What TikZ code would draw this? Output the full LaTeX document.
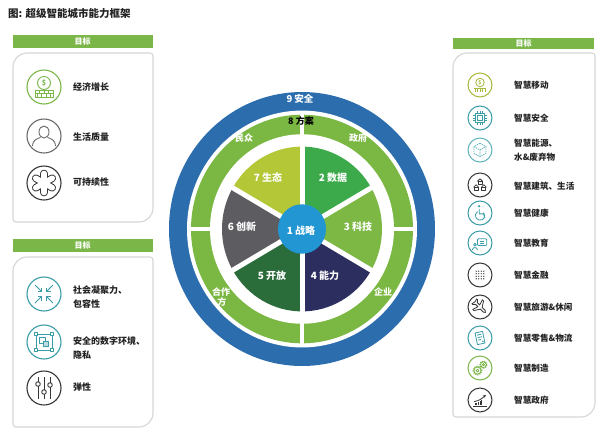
\documentclass[tikz,border=0pt]{standalone}
\usepackage{fontspec}
\setmainfont{Noto Sans CJK SC}
\usetikzlibrary{arrows.meta}
\definecolor{hdrgreen}{HTML}{7AB648}
\definecolor{ringblue}{HTML}{2C6DAE}
\definecolor{ringgreen}{HTML}{7BB843}
\definecolor{sYellow}{HTML}{B3C737}
\definecolor{sGreen}{HTML}{3CAA4A}
\definecolor{sLight}{HTML}{7DB845}
\definecolor{sNavy}{HTML}{2B2E5E}
\definecolor{sDark}{HTML}{2B6C3B}
\definecolor{sGray}{HTML}{5D5C60}
\definecolor{cBlue}{HTML}{2196D3}
\definecolor{icTeal}{HTML}{3A9CA6}
\definecolor{icTealL}{HTML}{5FB3BC}
\definecolor{icGreen}{HTML}{7AB648}
\definecolor{icOlive}{HTML}{A9B83C}
\definecolor{icDark}{HTML}{363636}
\definecolor{icGray}{HTML}{6A6A6A}
\definecolor{boxline}{HTML}{D6D6D6}
\definecolor{txt}{HTML}{222222}
\tikzset{
  hdr/.style={fill=hdrgreen, text=white, font=\fontsize{8}{9}\selectfont\bfseries, minimum width=140pt, minimum height=13pt, inner sep=0pt},
  lbl/.style={anchor=west, font=\fontsize{9}{14}\selectfont\bfseries, text=txt, align=left, inner sep=0pt},
  rlbl/.style={anchor=west, font=\fontsize{8.6}{14}\selectfont\bfseries, text=txt, align=left, inner sep=0pt},
  ico/.style={circle, draw, line width=1.1pt, minimum size=34pt, inner sep=0pt},
  rico/.style={circle, draw, line width=1pt, minimum size=24pt, inner sep=0pt},
  seclbl/.style={text=white, font=\fontsize{10}{12}\selectfont\bfseries, inner sep=0pt},
  ringlbl/.style={text=white, font=\fontsize{9}{10}\selectfont\bfseries, inner sep=0pt, align=center},
  glyph/.style={line width=0.9pt, line join=round},
  rglyph/.style={line width=0.8pt, line join=round, scale=0.85}
}
\newcommand\panelbox[4]{%
  \draw[boxline, line width=1.1pt] (#1,#2+14) arc[start angle=180,end angle=270,radius=14]
    -- (#3-3,#2) arc[start angle=270,end angle=360,radius=3]
    -- (#3,#4-14) arc[start angle=0,end angle=90,radius=14]
    -- (#1+3,#4) arc[start angle=90,end angle=180,radius=3] -- cycle;}
\begin{document}
\begin{tikzpicture}[x=1pt,y=-1pt]
\useasboundingbox[fill=white] (0,0) rectangle (600,432);

% title
\node[anchor=west, font=\fontsize{10.5}{12}\selectfont\bfseries, text=txt, inner sep=0pt] (title) at (8,13) {图: 超级智能城市能力框架};

% ---------- left panel 1 ----------
\node[hdr] (h1) at (82.5,41.5) {目标};
\panelbox{13}{53}{153}{222}
\node[ico, draw=icGreen] (lic1) at (44,87) {};
\node[ico, draw=icGray] (lic2) at (44,136) {};
\node[ico, draw=icDark] (lic3) at (44,183) {};
\node[lbl] (lt1) at (73,87) {经济增长};
\node[lbl] (lt2) at (73,137) {生活质量};
\node[lbl] (lt3) at (73,182) {可持续性};

% ---------- left panel 2 ----------
\node[hdr] (h2) at (82.5,245) {目标};
\panelbox{13}{257}{153}{427}
\node[ico, draw=icTeal] (lic4) at (44,294) {};
\node[ico, draw=icTeal] (lic5) at (44,342) {};
\node[ico, draw=icDark] (lic6) at (44,388) {};
\node[lbl] (lt4) at (73,297.5) {社会凝聚力、\\包容性};
\node[lbl] (lt5) at (73,348.5) {安全的数字环境、\\隐私};
\node[lbl] (lt6) at (73,387) {弹性};

% ---------- right panel ----------
\node[hdr, minimum width=141pt, minimum height=11pt] (h3) at (523.5,43.5) {目标};
\panelbox{453}{53}{595}{417}
\foreach \n/\y/\c in {1/85/icOlive,2/118/icTeal,3/150/icTealL,4/185/icDark,5/213/icTeal,6/243/icTeal,7/275/icDark,8/307/icDark,9/338/icTeal,10/368/icGreen,11/400/icDark}
  \node[rico, draw=\c] (ric\n) at (480,\y) {};
\node[rlbl] (rt1) at (514,85) {智慧移动};
\node[rlbl] (rt2) at (514,118) {智慧安全};
\node[rlbl] (rt3) at (514,150) {智慧能源、\\水\&废弃物};
\node[rlbl] (rt4) at (514,186) {智慧建筑、生活};
\node[rlbl] (rt5) at (514,213) {智慧健康};
\node[rlbl] (rt6) at (514,243) {智慧教育};
\node[rlbl] (rt7) at (514,275) {智慧金融};
\node[rlbl] (rt8) at (514,307) {智慧旅游\&休闲};
\node[rlbl] (rt9) at (514,338) {智慧零售\&物流};
\node[rlbl] (rt10) at (514,368) {智慧制造};
\node[rlbl] (rt11) at (514,400) {智慧政府};

% ---------- left glyphs ----------
\begin{scope}[shift={(lic1.center)}, yscale=-1, icGreen, glyph]
  \draw (0,4) circle (6.5);
  \node[font=\fontsize{7}{7}\selectfont\bfseries, text=icGreen, inner sep=0pt] (dol1) at (0,4) {\$};
  \draw (-9,-3) rectangle (9,-10);
  \draw (-9,-6.5) -- (9,-6.5);
  \foreach \x in {-4.5,0,4.5} \draw (\x,-3) -- (\x,-6.5);
  \foreach \x in {-6.75,-2.25,2.25,6.75} \draw (\x,-6.5) -- (\x,-10);
\end{scope}
\begin{scope}[shift={(lic2.center)}, yscale=-1, icGray, glyph]
  \draw (0,4) ellipse [x radius=5, y radius=6];
  \draw (-11.5,-10) .. controls (-11,-3) and (-6,-2.5) .. (-3.5,-1.5);
  \draw (11.5,-10) .. controls (11,-3) and (6,-2.5) .. (3.5,-1.5);
\end{scope}
\begin{scope}[shift={(lic3.center)}, yscale=-1]
  \foreach \a in {90,30,150} \draw[line width=7.6pt, line cap=round, icDark] (\a:9.5) -- (\a+180:9.5);
  \foreach \a in {90,30,150} \draw[line width=5.6pt, line cap=round, white] (\a:9.5) -- (\a+180:9.5);
\end{scope}
\begin{scope}[shift={(lic4.center)}, yscale=-1, icTeal, glyph]
  \foreach \sx/\sy in {1/1,1/-1,-1/1,-1/-1} {
    \draw (\sx*9,\sy*9) -- (\sx*2.5,\sy*2.5);
    \draw (\sx*2.5,\sy*6.5) -- (\sx*2.5,\sy*2.5) -- (\sx*6.5,\sy*2.5);
  }
\end{scope}
\begin{scope}[shift={(lic5.center)}, yscale=-1, icTeal, glyph]
  \draw (-8,-8) rectangle (8,8);
  \foreach \sx/\sy in {1/1,1/-1,-1/1,-1/-1}
    \draw[fill=white] (\sx*8-1.8,\sy*8-1.8) rectangle +(3.6,3.6);
  \draw (-4.5,-1) rectangle (1,4.5);
  \draw[fill=icTeal!35] (-1,-4.5) rectangle (4.5,1);
\end{scope}
\begin{scope}[shift={(lic6.center)}, yscale=-1, icDark, glyph]
  \foreach \x/\k in {-6/4,0/-4,6/3} {
    \draw (\x,-11) -- (\x,11);
    \draw[fill=white] (\x,\k) circle (2.3);
  }
\end{scope}

% ---------- right glyphs ----------
\begin{scope}[shift={(ric1.center)}, yscale=-1, icOlive, rglyph]
  \draw (0,3) circle (5);
  \node[font=\fontsize{5}{5}\selectfont\bfseries, text=icOlive, inner sep=0pt] (dol2) at (0,3) {\$};
  \draw (-7,-4) -- (7,-4);
  \foreach \x in {-6,-3,0,3,6} \draw (\x,-4) -- (\x,-8);
\end{scope}
\begin{scope}[shift={(ric2.center)}, yscale=-1, icTeal, rglyph]
  \draw (-5,-5) rectangle (5,5);
  \draw (-2.5,-2.5) rectangle (2.5,2.5);
  \foreach \t in {-3,0,3} {
    \draw (\t,5) -- (\t,8); \draw (\t,-5) -- (\t,-8);
    \draw (5,\t) -- (8,\t); \draw (-5,\t) -- (-8,\t);
  }
\end{scope}
\begin{scope}[shift={(ric3.center)}, yscale=-1, icTealL, rglyph, dash pattern=on 1.3pt off 0.9pt]
  \draw (0,8) -- (7,4) -- (7,-4) -- (0,-8) -- (-7,-4) -- (-7,4) -- cycle;
  \draw (-7,4) -- (0,0) -- (7,4) (0,0) -- (0,-8);
\end{scope}
\begin{scope}[shift={(ric4.center)}, yscale=-1, icDark, rglyph]
  \foreach \x/\y in {0/3,-4.5/-4,4.5/-4} {
    \draw (\x-2.4,\y-2.5) rectangle (\x+2.4,\y+1.3);
    \draw (\x-3,\y+1.3) -- (\x,\y+4.3) -- (\x+3,\y+1.3);
  }
\end{scope}
\begin{scope}[shift={(ric5.center)}, yscale=-1, icTeal, rglyph]
  \fill (-1,8) circle (1.5);
  \draw (-1,5) -- (-1,-1) -- (4,-1) -- (6,-6);
  \draw (0,-3) ++(120:5.5) arc[start angle=120, end angle=400, radius=5.5];
\end{scope}
\begin{scope}[shift={(ric6.center)}, yscale=-1, icTeal, rglyph]
  \draw[rounded corners=1pt] (-3,-3) rectangle (8,5);
  \draw (0,2) -- (5,2) (0,-0.5) -- (5,-0.5);
  \draw (-6,-2) circle (1.6);
  \draw (-9,-8) .. controls (-9,-4.5) and (-3,-4.5) .. (-3,-8);
\end{scope}
\begin{scope}[shift={(ric7.center)}, yscale=-1, icDark, scale=0.85]
  \foreach \i in {-4.5,-1.5,1.5,4.5}
    \foreach \j in {-4.5,-1.5,1.5,4.5}
      \fill (\i,\j) circle (0.8);
\end{scope}
\begin{scope}[shift={(ric8.center)}, yscale=-1, icDark, rglyph, rotate=45]
  \draw (9,0) -- (7,1.5) -- (2,1.5) -- (-2,8) -- (-4,8) -- (-2,1.5) -- (-6,1.5) -- (-8,4) -- (-9.5,4)
    -- (-8.5,0) -- (-9.5,-4) -- (-8,-4) -- (-6,-1.5) -- (-2,-1.5) -- (-4,-8) -- (-2,-8) -- (2,-1.5) -- (7,-1.5) -- cycle;
\end{scope}
\begin{scope}[shift={(ric9.center)}, yscale=-1, icTeal, rglyph, rotate=-12]
  \draw (-4.5,-7) rectangle (4.5,7);
  \draw (-2.5,4) -- (2.5,4) (-2.5,1) -- (2.5,1) (-2.5,-2) -- (1,-2);
  \fill (2.5,-4.5) circle (1);
\end{scope}
\begin{scope}[shift={(ric10.center)}, yscale=-1, icGreen, rglyph]
  \draw (-3,-3) circle (4.2);
  \draw (-3,-3) circle (1.7);
  \draw[line width=1.3pt, dash pattern=on 1.1pt off 1.1pt] (-3,-3) circle (5.1);
  \draw (4,4) circle (3.3);
  \draw (4,4) circle (1.3);
  \draw[line width=1.2pt, dash pattern=on 1pt off 1pt] (4,4) circle (4.1);
\end{scope}
\begin{scope}[shift={(ric11.center)}, yscale=-1, icDark, rglyph]
  \foreach \x/\h in {-6/2,-4/3,-2/4,0/5,2/6} \draw (\x,-6) -- (\x,-6+\h);
  \draw (-8,-7) -- (8,-7);
  \draw[-{Stealth[length=3pt,width=3pt]}] (-7,-2) .. controls (0,0) .. (7,6);
\end{scope}

% ---------- central wheel ----------
\begin{scope}[shift={(302,229)}, yscale=-1.03]
  \fill[ringblue] (0,0) circle (133);
  \fill[white] (0,0) circle (115);
  \fill[ringgreen] (0,0) circle (111);
  \fill[white] (0,0) circle (92);
  \draw[white, line width=4pt] (-112,0) -- (112,0) (0,-112) -- (0,112);
  \fill[sYellow] (0,0) -- (90:80) arc[start angle=90, end angle=150, radius=80] -- cycle;
  \fill[sGreen] (0,0) -- (30:80) arc[start angle=30, end angle=90, radius=80] -- cycle;
  \fill[sLight] (0,0) -- (-30:80) arc[start angle=-30, end angle=30, radius=80] -- cycle;
  \fill[sNavy] (0,0) -- (-90:80) arc[start angle=-90, end angle=-30, radius=80] -- cycle;
  \fill[sDark] (0,0) -- (-150:80) arc[start angle=-150, end angle=-90, radius=80] -- cycle;
  \fill[sGray] (0,0) -- (150:80) arc[start angle=150, end angle=210, radius=80] -- cycle;
  \foreach \a in {30,90,150,210,270,330} \draw[white, line width=5pt] (0,0) -- (\a:82);
  \fill[cBlue] (0,0) circle (24);
  \node[ringlbl, font=\fontsize{9.5}{10}\selectfont\bfseries] (l9) at (-2,126) {9 安全};
  \node[ringlbl, text=black] (l8) at (-1,105) {8 方案};
  \node[ringlbl] (lmz) at (-58,88) {民众};
  \node[ringlbl] (lzf) at (56,88) {政府};
  \node[ringlbl, align=left] (lhz) at (-81,-66) {合作\\\hspace*{0.6em}方};
  \node[ringlbl] (lqy) at (81,-61) {企业};
  \node[seclbl] (s7) at (-34,50) {7 生态};
  \node[seclbl] (s2) at (31,50) {2 数据};
  \node[seclbl] (s3) at (56,2) {3 科技};
  \node[seclbl] (s4) at (23,-45) {4 能力};
  \node[seclbl] (s5) at (-30,-45) {5 开放};
  \node[seclbl] (s6) at (-60,2) {6 创新};
  \node[seclbl] (s1) at (-1,-2) {1 战略};
\end{scope}
\end{tikzpicture}
\end{document}
